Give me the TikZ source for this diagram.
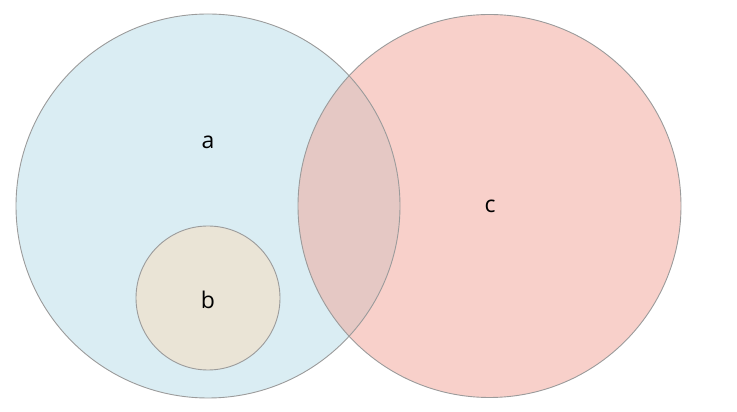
\documentclass[tikz,border=0pt]{standalone}
\usepackage{fontspec}
\setmainfont{Open Sans}
\definecolor{afill}{RGB}{218,237,243}
\definecolor{cfill}{RGB}{248,208,202}
\definecolor{acfill}{RGB}{229,200,196}
\definecolor{bfill}{RGB}{234,228,214}
\definecolor{edge}{RGB}{155,155,155}
\tikzset{
  setcircle/.style={circle, draw=edge, line width=0.9pt, inner sep=0pt},
  lbl/.style={font=\fontsize{23}{26}\selectfont, inner sep=0pt}
}
\begin{document}
\begin{tikzpicture}[x=1pt,y=1pt]
\useasboundingbox (0,0) rectangle (737,412);
\fill[afill] (208,206) circle (192);
\fill[cfill] (489.5,206) circle (191.5);
\begin{scope}
  \clip (208,206) circle (192);
  \fill[acfill] (489.5,206) circle (191.5);
\end{scope}
\node[setcircle, minimum size=384pt] (A) at (208,206) {};
\node[setcircle, minimum size=383pt] (C) at (489.5,206) {};
\node[setcircle, fill=bfill, minimum size=144pt] (B) at (208,114) {};
\node[lbl] (la) at (208,270) {a};
\node[lbl] (lb) at (208,112) {b};
\node[lbl] (lc) at (490,206) {c};
\end{tikzpicture}
\end{document}
